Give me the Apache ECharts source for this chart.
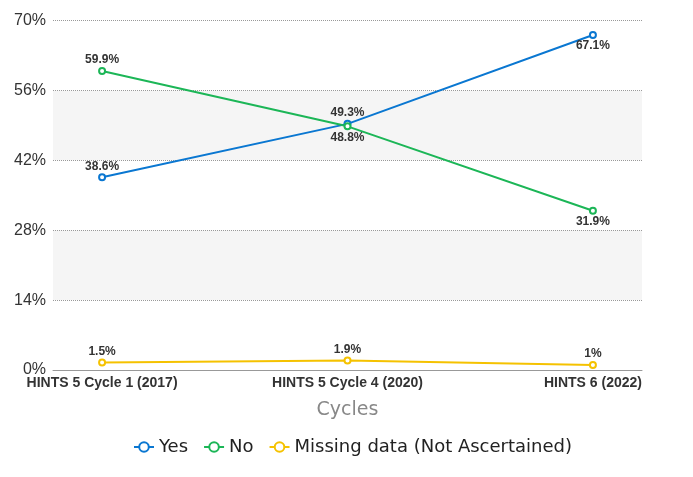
<!DOCTYPE html>
<html><head><meta charset="utf-8">
<script src="https://cdn.jsdelivr.net/npm/echarts@6/dist/echarts.min.js"></script>
<style>html,body{margin:0;padding:0;background:#fff}#c{width:693px;height:477px}</style>
</head><body><div id="c"></div>
<script>
var categories = ['HINTS 5 Cycle 1 (2017)', 'HINTS 5 Cycle 4 (2020)', 'HINTS 6 (2022)'];
var yesValues = [38.6, 49.3, 67.1];
var noValues = [59.9, 48.8, 31.9];
var missingValues = [1.5, 1.9, 1.0];
var yTicks = [0, 14, 28, 42, 56, 70];

var chart = echarts.init(document.getElementById('c'));
function toPoints(vals, positions) {
  return vals.map(function (v, i) {
    return { value: [i, v], label: { position: positions[i] } };
  });
}
var labelStyle = { show: true, fontFamily: 'Liberation Sans, Arial', fontWeight: 'bold', fontSize: 12, color: '#333', distance: 1,
  formatter: function (p) { return p.value[1] + '%'; } };
function mk(name, vals, color, positions) {
  return {
    name: name, type: 'line', data: toPoints(vals, positions),
    symbol: 'emptyCircle', symbolSize: 6,
    lineStyle: { width: 2, color: color }, itemStyle: { color: color, borderWidth: 1.2 },
    label: labelStyle
  };
}
chart.setOption({
  animation: false,
  grid: { left: 53, right: 51, top: 20.5, bottom: 107, containLabel: false },
  legend: {
    bottom: 16, left: 128, itemWidth: 20, itemHeight: 12, itemGap: 15,
    textStyle: { fontFamily: 'DejaVu Sans', fontSize: 18, color: '#222' },
    data: ['Yes', 'No', 'Missing data (Not Ascertained)']
  },
  xAxis: {
    type: 'value', min: -0.2, max: 2.2,
    name: 'Cycles', nameLocation: 'middle', nameGap: 31,
    nameTextStyle: { fontFamily: 'DejaVu Sans', fontSize: 19, color: '#888' },
    axisLine: { show: true, onZero: false, lineStyle: { color: '#999', width: 1 } },
    axisTick: { show: false },
    splitLine: { show: false },
    axisLabel: {
      customValues: categories.map(function (c, i) { return i; }),
      formatter: function (v) { return categories[Math.round(v)]; },
      fontFamily: 'Liberation Sans, Arial', fontWeight: 'bold', fontSize: 14, color: '#333', margin: 6
    }
  },
  yAxis: {
    type: 'value', min: yTicks[0], max: yTicks[yTicks.length - 1], interval: yTicks[1] - yTicks[0],
    axisLine: { show: false }, axisTick: { show: false },
    axisLabel: { formatter: '{value}%', fontFamily: 'Liberation Sans, Arial', fontSize: 16, color: '#333', margin: 7 },
    splitLine: { show: true, lineStyle: { type: 'dotted', color: '#999', width: 1 } },
    splitArea: { show: true, areaStyle: { color: ['#ffffff', '#f5f5f5'] } }
  },
  series: [
    mk('Yes', yesValues, '#0a77d1', ['top', 'top', 'bottom']),
    mk('No', noValues, '#1cb657', ['top', 'bottom', 'bottom']),
    mk('Missing data (Not Ascertained)', missingValues, '#f5c200', ['top', 'top', 'top'])
  ]
});
</script></body></html>
